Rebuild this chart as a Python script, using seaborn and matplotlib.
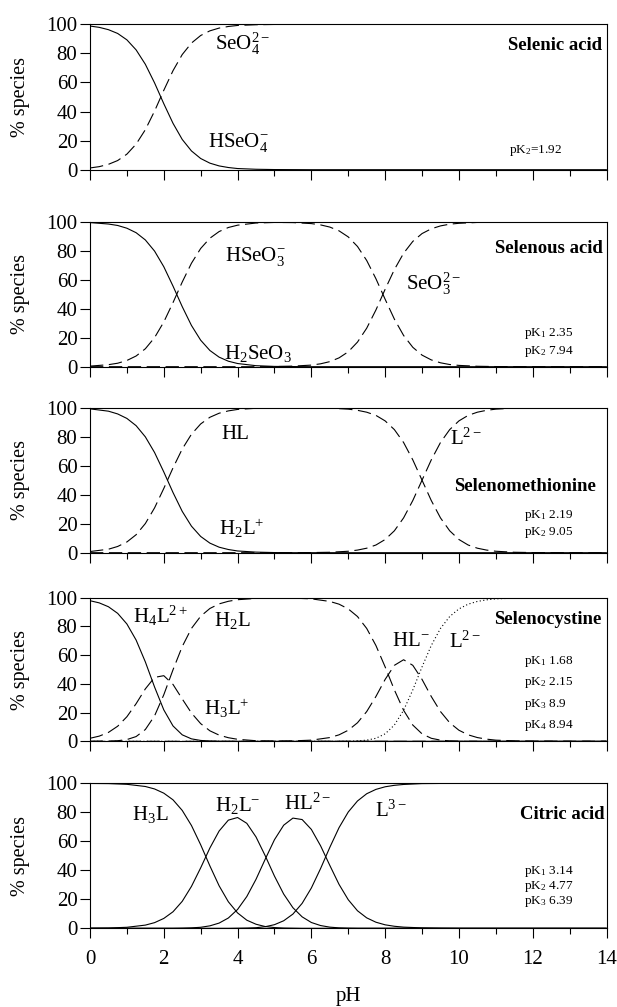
import matplotlib
matplotlib.use("Agg")
import matplotlib.pyplot as plt
import seaborn as sns
import pandas as pd
from matplotlib.ticker import MultipleLocator

# ---------------- data ----------------
# Panel 1: selenic acid
ph_selenic = [0, 0.25, 0.5, 0.75, 1, 1.25, 1.5, 1.75, 2, 2.25, 2.5, 2.75, 3, 3.25, 3.5, 3.75, 4,
              4.5, 5, 6, 8, 10, 12, 14]
hseo4 = [98.8, 97.9, 96.3, 93.7, 89.3, 82.4, 72.5, 59.7, 45.4, 31.9, 20.8, 12.9, 7.7, 4.5, 2.6, 1.5, 0.8,
         0.3, 0.1, 0.0, 0.0, 0.0, 0.0, 0.0]
seo4 = [1.2, 2.1, 3.7, 6.3, 10.7, 17.6, 27.5, 40.3, 54.6, 68.1, 79.2, 87.1, 92.3, 95.5, 97.4, 98.5, 99.2,
        99.7, 99.9, 100, 100, 100, 100, 100]

# Panel 2: selenous acid
ph_selenous = [0, 0.5, 0.75, 1, 1.25, 1.5, 1.75, 2, 2.25, 2.5, 2.75, 3, 3.25, 3.5, 3.75, 4, 4.5, 5, 5.5,
               6, 6.25, 6.5, 6.75, 7, 7.25, 7.5, 7.75, 8, 8.25, 8.5, 8.75, 9, 9.25, 9.5, 9.75, 10,
               10.5, 11, 12, 14]
h2seo3 = [99.6, 98.6, 97.6, 95.7, 92.6, 87.6, 79.9, 69.1, 55.7, 41.5, 28.5, 18.3, 11.2, 6.6, 3.8, 2.2,
          0.7, 0.2, 0.1, 0.0, 0.0, 0.0, 0.0, 0.0, 0.0, 0.0, 0.0, 0.0, 0.0, 0.0, 0.0, 0.0, 0.0, 0.0,
          0.0, 0.0, 0.0, 0.0, 0.0, 0.0]
hseo3 = [0.4, 1.4, 2.4, 4.3, 7.4, 12.4, 20.1, 30.9, 44.3, 58.5, 71.5, 81.7, 88.8, 93.4, 96.2, 97.8,
         99.3, 99.7, 99.6, 98.9, 98.0, 96.5, 93.9, 89.7, 83.1, 73.4, 60.8, 46.6, 32.9, 21.6, 13.4, 8.0,
         4.7, 2.7, 1.5, 0.9, 0.3, 0.1, 0.0, 0.0]
seo3 = [0.0, 0.0, 0.0, 0.0, 0.0, 0.0, 0.0, 0.0, 0.0, 0.0, 0.0, 0.0, 0.0, 0.0, 0.0, 0.0,
        0.0, 0.1, 0.4, 1.1, 2.0, 3.5, 6.1, 10.3, 17.0, 26.6, 39.2, 53.5, 67.1, 78.4, 86.6, 92.0,
        95.3, 97.3, 98.5, 99.1, 99.7, 99.9, 100, 100]

# Panel 3: selenomethionine
ph_semet = [0, 0.5, 0.75, 1, 1.25, 1.5, 1.75, 2, 2.25, 2.5, 2.75, 3, 3.25, 3.5, 3.75, 4, 4.5, 5, 5.5,
            6, 6.5, 7, 7.25, 7.5, 7.75, 8, 8.25, 8.5, 8.75, 9, 9.25, 9.5, 9.75, 10, 10.25, 10.5, 10.75,
            11, 11.5, 12, 13, 14]
semet_h2l = [99.2, 97.6, 95.7, 92.6, 87.6, 79.9, 69.1, 55.7, 41.5, 28.5, 18.3, 11.2, 6.6, 3.8, 2.2, 1.2,
             0.4, 0.1, 0.0, 0.0, 0.0, 0.0, 0.0, 0.0, 0.0, 0.0, 0.0, 0.0, 0.0, 0.0, 0.0, 0.0, 0.0, 0.0,
             0.0, 0.0, 0.0, 0.0, 0.0, 0.0, 0.0, 0.0]
semet_hl = [0.8, 2.4, 4.3, 7.4, 12.4, 20.1, 30.9, 44.3, 58.5, 71.5, 81.7, 88.8, 93.4, 96.2, 97.8, 98.8,
            99.6, 99.9, 99.9, 99.9, 99.7, 99.0, 98.2, 96.9, 94.7, 90.9, 84.9, 76.0, 64.0, 50.0, 36.0,
            24.0, 15.1, 9.1, 5.3, 3.1, 1.8, 1.0, 0.3, 0.1, 0.0, 0.0]
semet_l = [0.0, 0.0, 0.0, 0.0, 0.0, 0.0, 0.0, 0.0, 0.0, 0.0, 0.0, 0.0, 0.0, 0.0, 0.0, 0.0,
           0.0, 0.0, 0.0, 0.1, 0.3, 1.0, 1.8, 3.1, 5.3, 9.1, 15.1, 24.0, 36.0, 50.0, 64.0, 76.0,
           84.9, 90.9, 94.7, 96.9, 98.2, 99.0, 99.7, 99.9, 100, 100]

# Panel 4: selenocystine
ph_secys = [0, 0.25, 0.5, 0.75, 1, 1.25, 1.5, 1.75, 2, 2.25, 2.5, 2.75, 3, 3.25, 3.5, 3.75, 4,
            4.5, 5, 5.5, 6, 6.5, 6.75, 7, 7.25, 7.5, 7.75, 8, 8.25, 8.5, 8.75, 9, 9.25, 9.5, 9.75,
            10, 10.25, 10.5, 10.75, 11, 11.5, 12, 13, 14]
secys_h4l = [97.9, 96.4, 93.7, 89.1, 81.7, 70.5, 55.3, 37.8, 21.9, 10.7, 4.5, 1.7, 0.6, 0.2, 0.1, 0.0, 0.0,
             0.0, 0.0, 0.0, 0.0, 0.0, 0.0, 0.0, 0.0, 0.0, 0.0, 0.0, 0.0, 0.0, 0.0, 0.0, 0.0, 0.0, 0.0,
             0.0, 0.0, 0.0, 0.0, 0.0, 0.0, 0.0, 0.0, 0.0]
secys_h3l = [2.1, 3.6, 6.2, 10.5, 17.1, 26.2, 36.5, 44.5, 45.7, 39.6, 29.5, 19.7, 12.3, 7.3, 4.3, 2.5, 1.4,
             0.4, 0.1, 0.0, 0.0, 0.0, 0.0, 0.0, 0.0, 0.0, 0.0, 0.0, 0.0, 0.0, 0.0, 0.0, 0.0, 0.0, 0.0,
             0.0, 0.0, 0.0, 0.0, 0.0, 0.0, 0.0, 0.0, 0.0]
secys_h2l = [0.0, 0.1, 0.1, 0.4, 1.2, 3.3, 8.2, 17.7, 32.4, 49.8, 66.0, 78.6, 87.1, 92.5, 95.7, 97.5, 98.6,
             99.5, 99.8, 99.7, 99.2, 97.4, 95.5, 92.2, 86.9, 78.6, 66.7, 51.8, 35.8, 21.6, 11.3, 5.2, 2.1,
             0.8, 0.3, 0.1, 0.0, 0.0, 0.0, 0.0, 0.0, 0.0, 0.0, 0.0]
secys_hl = [0.0, 0.0, 0.0, 0.0, 0.0, 0.0, 0.0, 0.0, 0.0, 0.0, 0.0, 0.0, 0.0, 0.0, 0.0, 0.0, 0.0,
            0.0, 0.1, 0.3, 0.8, 2.6, 4.5, 7.7, 12.9, 20.7, 31.2, 43.1, 52.9, 56.8, 52.9, 43.1, 31.2,
            20.7, 12.9, 7.7, 4.5, 2.6, 1.5, 0.8, 0.3, 0.1, 0.0, 0.0]
secys_l = [0.0, 0.0, 0.0, 0.0, 0.0, 0.0, 0.0, 0.0, 0.0, 0.0, 0.0, 0.0, 0.0, 0.0, 0.0, 0.0, 0.0,
           0.0, 0.0, 0.0, 0.0, 0.0, 0.0, 0.1, 0.3, 0.8, 2.1, 5.2, 11.3, 21.6, 35.8, 51.8, 66.7,
           78.6, 86.9, 92.2, 95.5, 97.4, 98.5, 99.2, 99.7, 99.9, 100, 100]

# Panel 5: citric acid
ph_citric = [0, 0.5, 1, 1.5, 1.75, 2, 2.25, 2.5, 2.75, 3, 3.25, 3.5, 3.75, 4, 4.25, 4.5, 4.75, 5, 5.25,
             5.5, 5.75, 6, 6.25, 6.5, 6.75, 7, 7.25, 7.5, 7.75, 8, 8.25, 8.5, 9, 9.5, 10, 11, 12, 14]
citric_h3l = [99.9, 99.8, 99.3, 97.8, 96.1, 93.2, 88.6, 81.3, 70.9, 57.6, 43.0, 29.3, 18.3, 10.6, 5.6,
              2.8, 1.2, 0.5, 0.2, 0.1, 0.0, 0.0, 0.0, 0.0, 0.0, 0.0, 0.0, 0.0, 0.0, 0.0, 0.0, 0.0,
              0.0, 0.0, 0.0, 0.0, 0.0, 0.0]
citric_h2l = [0.1, 0.2, 0.7, 2.2, 3.9, 6.8, 11.4, 18.6, 28.9, 41.7, 55.4, 67.1, 74.6, 76.4, 72.4, 63.0,
              50.0, 36.0, 23.6, 14.2, 7.9, 4.0, 1.9, 0.8, 0.3, 0.1, 0.0, 0.0, 0.0, 0.0, 0.0, 0.0,
              0.0, 0.0, 0.0, 0.0, 0.0, 0.0]
citric_hl = [0.0, 0.0, 0.0, 0.0, 0.0, 0.0, 0.0, 0.1, 0.3, 0.7, 1.7, 3.6, 7.1, 13.0, 21.9, 33.8, 47.7,
             61.1, 71.1, 76.0, 75.0, 68.2, 56.9, 43.4, 30.3, 19.7, 12.1, 7.2, 4.2, 2.4, 1.4, 0.8,
             0.3, 0.1, 0.0, 0.0, 0.0, 0.0]
citric_l = [0.0, 0.0, 0.0, 0.0, 0.0, 0.0, 0.0, 0.0, 0.0, 0.0, 0.0, 0.0, 0.0, 0.1, 0.2, 0.4, 1.1,
            2.5, 5.2, 9.8, 17.2, 27.8, 41.2, 55.8, 69.4, 80.2, 87.8, 92.8, 95.8, 97.6, 98.6, 99.2,
            99.8, 99.9, 100, 100, 100, 100]

compound_names = ["Selenic acid", "Selenous acid", "Selenomethionine", "Selenocystine", "Citric acid"]
pk_labels = [
    [r"pK$_2$=1.92"],
    [r"pK$_1$ 2.35", r"pK$_2$ 7.94"],
    [r"pK$_1$ 2.19", r"pK$_2$ 9.05"],
    [r"pK$_1$ 1.68", r"pK$_2$ 2.15", r"pK$_3$ 8.9", r"pK$_4$ 8.94"],
    [r"pK$_1$ 3.14", r"pK$_2$ 4.77", r"pK$_3$ 6.39"],
]
x_ticks = [0, 2, 4, 6, 8, 10, 12, 14]
y_ticks = [0, 20, 40, 60, 80, 100]

# ---------------- style ----------------
sns.set_theme(style="ticks")
plt.rcParams["font.family"] = ["Liberation Serif", "DejaVu Serif"]
plt.rcParams["mathtext.fontset"] = "custom"
plt.rcParams["mathtext.rm"] = "Liberation Serif"
plt.rcParams["mathtext.it"] = "Liberation Serif:italic"
plt.rcParams["mathtext.bf"] = "Liberation Serif:bold"
plt.rcParams["mathtext.default"] = "regular"

DASH = (0, (12, 5))
DOT = (0, (1, 2.2))

panels = [
    dict(ph=ph_selenic,
         lines=[(hseo4, "-"), (seo4, DASH)],
         labels=[(r"SeO$_4^{2-}$", 3.38, 82.4), (r"HSeO$_4^{-}$", 3.2, 15.6)],
         name=(13.87, 82.0),
         pk=(11.36, [11.6])),
    dict(ph=ph_selenous,
         lines=[(h2seo3, "-"), (hseo3, DASH), (seo3, DASH)],
         labels=[(r"HSeO$_3^{-}$", 3.67, 72.9), (r"SeO$_3^{2-}$", 8.57, 53.3),
                 (r"H$_2$SeO$_3$", 3.63, 5.0)],
         name=(13.9, 78.9),
         pk=(11.76, [21.0, 8.7])),
    dict(ph=ph_semet,
         lines=[(semet_h2l, "-"), (semet_hl, DASH), (semet_l, DASH)],
         labels=[("HL", 3.56, 78.4), (r"L$^{2-}$", 9.75, 74.7), (r"H$_2$L$^{+}$", 3.5, 12.4)],
         name=(13.71, 42.8),
         pk=(11.76, [24.0, 12.0])),
    dict(ph=ph_secys,
         lines=[(secys_h4l, "-"), (secys_h3l, DASH), (secys_h2l, DASH), (secys_hl, DASH),
                (secys_l, DOT)],
         labels=[(r"H$_4$L$^{2+}$", 1.16, 82.4), (r"H$_2$L", 3.37, 80.6), (r"H$_3$L$^{+}$", 3.1, 18.6),
                 (r"HL$^{-}$", 8.19, 66.1), (r"L$^{2-}$", 9.72, 65.1)],
         name=(13.87, 82.0),
         pk=(11.76, [54.0, 39.5, 24.0, 9.6])),
    dict(ph=ph_citric,
         lines=[(citric_h3l, "-"), (citric_h2l, "-"), (citric_hl, "-"), (citric_l, "-")],
         labels=[(r"H$_3$L", 1.13, 75.0), (r"H$_2$L$^{-}$", 3.38, 80.6), (r"HL$^{2-}$", 5.26, 81.6),
                 (r"L$^{3-}$", 7.72, 77.2)],
         name=(13.95, 75.7),
         pk=(11.76, [37.3, 27.0, 16.6])),
]

W, H = 617, 1007
panel_px = [(24.3, 169.7), (222.0, 366.7), (407.7, 552.7), (597.7, 741.3), (783.3, 928.3)]
x0_px, x1_px = 90.0, 606.5

fig = plt.figure(figsize=(W / 100, H / 100), dpi=100)
fig.patch.set_facecolor("white")

for i, (spec, (top, bot)) in enumerate(zip(panels, panel_px)):
    ax = fig.add_axes([x0_px / W, 1 - bot / H, (x1_px - x0_px) / W, (bot - top) / H])
    ax.set_facecolor("white")
    for vals, ls in spec["lines"]:
        df = pd.DataFrame({"pH": spec["ph"], "pct": vals})
        sns.lineplot(data=df, x="pH", y="pct", ax=ax, color="black", linewidth=0.8,
                     estimator=None, legend=False)
        ax.lines[-1].set_linestyle(ls)
    ax.set_xlim(0, 14)
    ax.set_ylim(0, 100)
    ax.set_xticks(x_ticks)
    ax.xaxis.set_minor_locator(MultipleLocator(1))
    ax.set_yticks(y_ticks)
    ax.set_xlabel("")
    ax.set_ylabel("")
    for sp in ax.spines.values():
        sp.set_visible(True)
        sp.set_color("black")
        sp.set_linewidth(0.8)
    ax.tick_params(axis="y", which="major", direction="out", length=7.5, width=0.8, pad=1.5,
                   labelsize=15, colors="black")
    ax.tick_params(axis="x", which="major", direction="out", length=7.5, width=0.8, pad=8,
                   labelsize=15, colors="black")
    ax.tick_params(axis="x", which="minor", direction="out", length=4.5, width=0.8, colors="black")
    if i < 4:
        ax.tick_params(axis="x", labelbottom=False)

    for txt, x, y in spec["labels"]:
        ax.text(x, y, txt, fontsize=15, ha="left", va="baseline", color="black")
    nx, ny = spec["name"]
    ax.text(nx, ny, compound_names[i], fontsize=13.5, fontweight="bold", ha="right", va="baseline",
            color="black")
    px, pys = spec["pk"]
    for txt, y in zip(pk_labels[i], pys):
        ax.text(px, y, txt, fontsize=9.5, ha="left", va="baseline", color="black")

    fig.text(20 / W, 1 - (top + bot) / 2 / H, "% species", rotation=90, fontsize=14.5,
             ha="center", va="center", color="black")

fig.text((x0_px + x1_px) / 2 / W, 1 - 996.5 / H, "pH", fontsize=15, ha="center", va="center",
         color="black")

fig.savefig("out.png", dpi=100, facecolor="white")
